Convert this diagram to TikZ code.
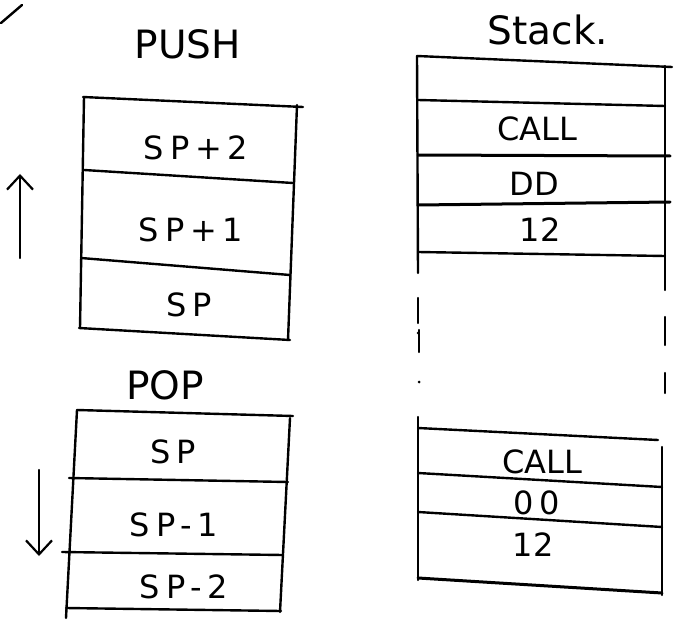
\documentclass[tikz,border=0pt]{standalone}
\usepackage{fontspec}
\setmainfont{DejaVu Sans}
\newfontfamily\handwide[LetterSpace=18]{DejaVu Sans}
\usetikzlibrary{arrows.meta}
\begin{document}
\begin{tikzpicture}[x=1pt,y=-1pt,line join=round,line cap=round,
  ink/.style={line width=2.4pt},
  heavy/.style={line width=3pt},
  dir/.style={line width=2.4pt,-{Straight Barb[length=14pt,width=26pt,line width=2.2pt]}},
  title/.style={font=\fontsize{39}{39}\selectfont,inner sep=0pt},
  cell/.style={font=\fontsize{32}{32}\selectfont,inner sep=0pt},
  spcell/.style={font=\handwide\fontsize{32}{32}\selectfont,inner sep=0pt}]
\useasboundingbox[fill=white] (0,0) rectangle (676,620);

% tick mark in the corner
\draw[ink] (1,23) -- (22,5);

% ---------- PUSH ----------
\node[title] (push) at (188,44) {PUSH};
\draw[ink] (83,97) -- (303,107);
\draw[ink] (84,97) -- (80,328);
\draw[ink] (297,105) -- (288,340);
\draw[ink] (84,170) -- (293,183);
\draw[ink] (81,258) -- (290,275);
\draw[ink] (79,328) -- (290,340);
\node[spcell] (p2) at (196,148) {SP+2};
\node[spcell] (p1) at (191,230) {SP+1};
\node[spcell] (p0) at (189,305) {SP};
\draw[dir] (20,258) -- (20,174);

% ---------- POP ----------
\node[title] (pop) at (165,385) {POP};
\draw[ink] (77,410) -- (293,416);
\draw[ink] (77,410) -- (66,618);
\draw[ink] (290,418) -- (280,612);
\draw[ink] (69,478) -- (288,482);
\draw[ink] (62,552) -- (283,555);
\draw[ink] (66,608) -- (281,611);
\node[spcell] (q0) at (173,452) {SP};
\node[spcell] (q1) at (174,525) {SP-1};
\node[spcell] (q2) at (184,587) {SP-2};
\draw[dir] (39,470) -- (39,556);

% ---------- Stack ----------
\node[title] (stk) at (548,30) {Stack.};
\draw[ink] (417,56) -- (672,67);
\draw[ink] (417,56) -- (418,273);
\draw[ink] (665,66) -- (665,290);
\draw[ink] (418,100) -- (665,106);
\draw[heavy] (418,155) -- (670,156);
\draw[heavy] (418,205) -- (670,202);
\draw[ink] (418,252) -- (665,256);
\node[cell] (c1) at (537,129) {CALL};
\node[cell] (c2) at (534,184) {DD};
\node[cell] (c3) at (540,230) {12};

% broken side walls between the two parts
\draw[ink] (418,298) -- (418,323);
\draw[ink] (419,330) -- (419,352);
\draw[ink] (665,317) -- (665,345);
\draw[ink] (665,373) -- (665,393);
\fill (418,333) circle (1.5pt);
\fill (419,382) circle (1.5pt);

% lower part of the stack
\draw[ink] (418,428) -- (658,440);
\draw[ink] (418,417) -- (418,580);
\draw[ink] (662,447) -- (662,595);
\draw[ink] (418,473) -- (662,487);
\draw[ink] (418,512) -- (662,527);
\draw[heavy] (418,578) -- (662,593);
\node[cell] (d1) at (542,462) {CALL};
\node[cell] (d2) at (537,503) {0\,0};
\node[cell] (d3) at (533,545) {12};
\end{tikzpicture}
\end{document}
